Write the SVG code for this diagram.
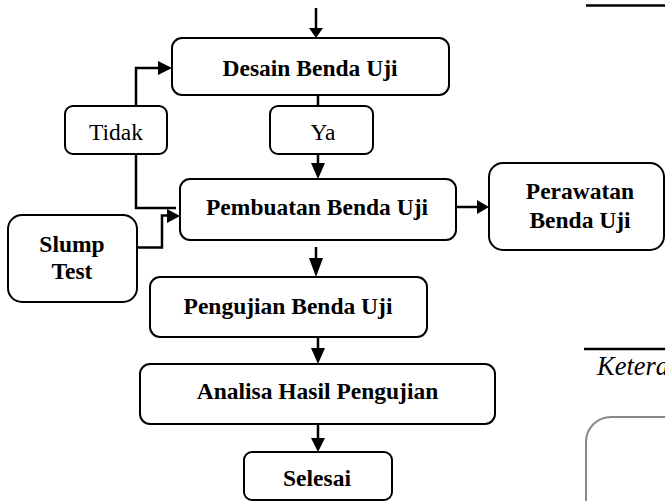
<svg xmlns="http://www.w3.org/2000/svg" width="665" height="501" viewBox="0 0 665 501">
<style>
.box{fill:#fff;stroke:#000;stroke-width:2}
.t{font-family:"Liberation Serif","Times New Roman",serif;font-size:23.5px;fill:#000;text-anchor:middle}
.b{font-weight:bold}
.c{fill:none;stroke:#000;stroke-width:2.5}
.h{fill:#000;stroke:none}
</style>
<rect width="665" height="501" fill="#fff"/>
<g id="connectors">
  <line class="c" x1="316" y1="8" x2="316" y2="30"/>
  <polygon class="h" points="309,28 323,28 316,38"/>
  <polyline class="c" points="136,106 136,68 160,68"/>
  <polygon class="h" points="158,61 172,68 158,75"/>
  <line class="c" x1="318" y1="95" x2="318" y2="106"/>
  <line class="c" x1="318" y1="154" x2="318" y2="164"/>
  <polygon class="h" points="311,163 325,163 318,179"/>
  <polyline class="c" points="136,154 136,208 176,208"/>
  <polyline class="c" points="138,247.5 162,247.5 162,215.5 170,215.5"/>
  <polygon class="h" points="167,209 180,216 167,223"/>
  <line class="c" x1="456" y1="207" x2="479" y2="207"/>
  <polygon class="h" points="477,200 489,207 477,214"/>
  <line class="c" x1="316" y1="247" x2="316" y2="260"/>
  <polygon class="h" points="309,258 323,258 316,277"/>
  <line class="c" x1="318" y1="338" x2="318" y2="350"/>
  <polygon class="h" points="311,348 325,348 318,364"/>
  <line class="c" x1="318" y1="424" x2="318" y2="440"/>
  <polygon class="h" points="311,438 325,438 318,452"/>
</g>
<g id="desain">
  <rect class="box" x="172" y="38" width="277" height="57" rx="10"/>
  <text class="t b" x="310" y="76">Desain Benda Uji</text>
</g>
<g id="tidak">
  <rect class="box" x="65" y="106" width="102" height="48" rx="8"/>
  <text class="t" x="116" y="140">Tidak</text>
</g>
<g id="ya">
  <rect class="box" x="270" y="106" width="103" height="48" rx="8"/>
  <text class="t" x="323" y="140">Ya</text>
</g>
<g id="pembuatan">
  <rect class="box" x="180" y="179" width="276" height="61" rx="10"/>
  <text class="t b" x="317" y="215">Pembuatan Benda Uji</text>
</g>
<g id="slump">
  <rect class="box" x="8" y="215" width="129" height="87" rx="14"/>
  <text class="t b" x="72" y="252">Slump</text>
  <text class="t b" x="72" y="279">Test</text>
</g>
<g id="perawatan">
  <rect class="box" x="489" y="163" width="175" height="87" rx="14"/>
  <text class="t b" x="580" y="199">Perawatan</text>
  <text class="t b" x="580" y="228">Benda Uji</text>
</g>
<g id="pengujian">
  <rect class="box" x="150" y="277" width="277" height="60" rx="10"/>
  <text class="t b" x="288" y="314">Pengujian Benda Uji</text>
</g>
<g id="analisa">
  <rect class="box" x="140" y="364" width="355" height="60" rx="10"/>
  <text class="t b" x="317.5" y="399">Analisa Hasil Pengujian</text>
</g>
<g id="selesai">
  <rect class="box" x="244" y="452" width="148" height="48" rx="8"/>
  <text class="t b" x="317" y="486">Selesai</text>
</g>
<line x1="586" y1="5.5" x2="665" y2="5.5" stroke="#000" stroke-width="2.5"/>
<line x1="584" y1="349" x2="665" y2="349" stroke="#000" stroke-width="2.5"/>
<text x="597" y="375" style="font-family:'Liberation Serif','Times New Roman',serif;font-size:26.5px;font-style:italic;fill:#000">Ketera</text>
<path d="M586,501 V442 A25,25 0 0 1 611,417 H665" fill="none" stroke="#888" stroke-width="2"/>
</svg>
